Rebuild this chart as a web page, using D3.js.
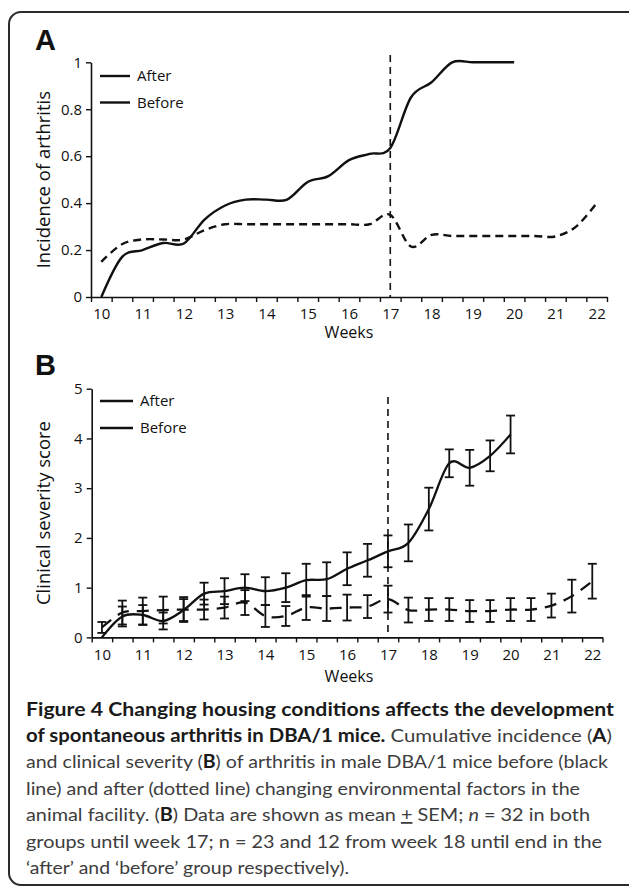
<!DOCTYPE html>
<html>
<head>
<meta charset="utf-8">
<script src="https://cdn.jsdelivr.net/npm/d3@7"></script>
<style>
  body { margin: 0; background: #fff; }
  svg { display: block; }
  text { font-family: "Open Sans", sans-serif; fill: #111; }
</style>
</head>
<body>
<div id="figure"></div>
<script>
// Wochen (Kategorien) und Achsenbeschriftungen
const weeks = [10, 10.5, 11, 11.5, 12, 12.5, 13, 13.5, 14, 14.5, 15, 15.5, 16, 16.5, 17, 17.5, 18, 18.5, 19, 19.5, 20, 20.5, 21, 21.5, 22];
const weekLabels = [10, 11, 12, 13, 14, 15, 16, 17, 18, 19, 20, 21, 22];
const incTicks = [0, 0.2, 0.4, 0.6, 0.8, 1];
const sevTicks = [0, 1, 2, 3, 4, 5];
const seriesNames = ["After", "Before"];

// A: kumulative Inzidenz
const incAfter = [0, 0.17, 0.2, 0.23, 0.228, 0.33, 0.39, 0.415, 0.415, 0.415, 0.49, 0.515, 0.583, 0.61, 0.635, 0.85, 0.915, 1, 1, 1, 1];
const incBefore = [0.15, 0.225, 0.245, 0.245, 0.245, 0.285, 0.31, 0.31, 0.31, 0.31, 0.31, 0.31, 0.31, 0.31, 0.35, 0.215, 0.265, 0.26, 0.26, 0.26, 0.26, 0.26, 0.258, 0.3, 0.4];

// B: klinischer Score, Mittelwert und SEM
const sevAfter = [0, 0.42, 0.45, 0.33, 0.55, 0.88, 0.93, 1.0, 0.93, 1.0, 1.15, 1.17, 1.38, 1.55, 1.73, 1.9, 2.58, 3.5, 3.41, 3.65, 4.08];
const sevAfterSem = [0, 0.2, 0.2, 0.17, 0.22, 0.22, 0.26, 0.27, 0.28, 0.29, 0.33, 0.34, 0.33, 0.33, 0.32, 0.37, 0.43, 0.28, 0.36, 0.31, 0.38];
const sevBefore = [0.2, 0.5, 0.53, 0.55, 0.56, 0.56, 0.6, 0.7, 0.43, 0.43, 0.6, 0.58, 0.6, 0.62, 0.77, 0.55, 0.56, 0.56, 0.53, 0.53, 0.56, 0.56, 0.64, 0.83, 1.13];
const sevBeforeSem = [0.11, 0.24, 0.27, 0.27, 0.25, 0.2, 0.22, 0.25, 0.22, 0.2, 0.25, 0.25, 0.26, 0.23, 0.27, 0.25, 0.23, 0.23, 0.22, 0.22, 0.23, 0.23, 0.24, 0.33, 0.35];

const W = 629, H = 887;

const svg = d3.select("#figure").append("svg")
  .attr("width", W)
  .attr("height", H);

// Rahmen mit runden Ecken (rechts abgeschnitten)
svg.append("rect")
  .attr("x", 9).attr("y", 12)
  .attr("width", 700).attr("height", 873)
  .attr("rx", 12)
  .attr("fill", "none")
  .attr("stroke", "#2a2a2a")
  .attr("stroke-width", 2);

function panel(opt) {
  const g = svg.append("g");
  const x = d3.scaleLinear().domain([9.75, 22.25]).range(opt.xRange);
  const y = d3.scaleLinear().domain(opt.yDomain).range(opt.yRange);

  // x-Achse: Striche an halben Wochen, Beschriftung in der Mitte
  const minor = weeks.map(w => w - 0.25).concat([22.25]);
  g.append("g")
    .attr("transform", "translate(0," + opt.yRange[0] + ")")
    .call(d3.axisBottom(x).tickValues(minor).tickFormat("").tickSize(5).tickSizeOuter(0))
    .call(a => a.select(".domain").attr("stroke", "#111").attr("stroke-width", 1.6))
    .call(a => a.selectAll(".tick line").attr("stroke", "#111").attr("stroke-width", 1.4));

  g.append("g")
    .attr("transform", "translate(0," + opt.yRange[0] + ")")
    .call(d3.axisBottom(x).tickValues(weekLabels).tickFormat(d => String(d)).tickSize(0).tickPadding(opt.xPad))
    .call(a => a.select(".domain").remove())
    .selectAll("text")
    .style("font-size", "15px")
    .style("font-family", "Open Sans")
    .attr("fill", "#111");

  // y-Achse
  g.append("g")
    .attr("transform", "translate(" + opt.xRange[0] + ",0)")
    .call(d3.axisLeft(y).tickValues(opt.yTicks).tickFormat(d => String(d)).tickSize(5).tickSizeOuter(0).tickPadding(4))
    .call(a => a.select(".domain").attr("stroke", "#111").attr("stroke-width", 1.6))
    .call(a => a.selectAll(".tick line").attr("stroke", "#111").attr("stroke-width", 1.4))
    .selectAll("text")
    .style("font-size", "15px")
    .style("font-family", "Open Sans")
    .attr("fill", "#111");

  // Achsentitel
  g.append("text")
    .attr("transform", "translate(" + opt.titleX + "," + (opt.yRange[0] + opt.yRange[1]) / 2 + ") rotate(-90)")
    .attr("text-anchor", "middle")
    .style("font-size", "18.5px")
    .text(opt.yTitle);

  g.append("text")
    .attr("x", 349).attr("y", opt.weeksY)
    .attr("text-anchor", "middle")
    .style("font-size", "16px")
    .text("Weeks");

  // Buchstabe A / B
  g.append("text")
    .attr("x", 35).attr("y", opt.letterY)
    .style("font-family", "Liberation Sans, Arial, sans-serif")
    .style("font-weight", "bold")
    .style("font-size", "29px")
    .text(opt.letter);

  // senkrechte gestrichelte Linie bei Woche 17
  g.append("line")
    .attr("x1", x(17)).attr("x2", x(17))
    .attr("y1", opt.vTop).attr("y2", opt.yRange[0])
    .attr("stroke", "#111")
    .attr("stroke-width", 1.6)
    .attr("stroke-dasharray", "7,5");

  // Legende (beide Muster durchgezogen wie im Original)
  seriesNames.forEach((name, i) => {
    const ly = opt.legY + i * opt.legStep;
    g.append("line")
      .attr("x1", opt.legX[0]).attr("x2", opt.legX[1])
      .attr("y1", ly).attr("y2", ly)
      .attr("stroke", "#111").attr("stroke-width", 2.4);
    g.append("text")
      .attr("x", opt.legX[1] + 7).attr("y", ly + 5)
      .style("font-size", "15px")
      .text(name);
  });

  return { g, x, y };
}

const curve = d3.curveCatmullRom.alpha(0);

// ---------- Panel A ----------
const A = panel({
  xRange: [91, 607], yRange: [297, 62.3], yDomain: [0, 1], yTicks: incTicks,
  yTitle: "Incidence of arthritis", titleX: 50, xPad: 11, weeksY: 338,
  letter: "A", letterY: 50, vTop: 55,
  legX: [100, 130], legY: 76, legStep: 26.5
});

const lineA = d3.line().x(d => A.x(d[0])).y(d => A.y(d[1])).curve(curve);

A.g.append("path")
  .datum(incAfter.map((v, i) => [weeks[i], v]))
  .attr("d", lineA)
  .attr("fill", "none").attr("stroke", "#111").attr("stroke-width", 2.4);

A.g.append("path")
  .datum(incBefore.map((v, i) => [weeks[i], v]))
  .attr("d", lineA)
  .attr("fill", "none").attr("stroke", "#111").attr("stroke-width", 2.4)
  .attr("stroke-dasharray", "8,5");

// ---------- Panel B ----------
const B = panel({
  xRange: [91.7, 602.5], yRange: [637.4, 388.7], yDomain: [0, 5], yTicks: sevTicks,
  yTitle: "Clinical severity score", titleX: 50, xPad: 12, weeksY: 682,
  letter: "B", letterY: 375, vTop: 397,
  legX: [100, 133], legY: 401, legStep: 27
});

const lineB = d3.line().x(d => B.x(d[0])).y(d => B.y(d[1])).curve(curve);

function errorBars(means, sems) {
  const data = means.map((m, i) => ({ w: weeks[i], lo: m - sems[i], hi: m + sems[i] }))
    .filter(d => d.hi > d.lo);
  const eb = B.g.append("g").attr("stroke", "#111").attr("stroke-width", 1.8);
  eb.selectAll(".v").data(data).enter().append("line")
    .attr("x1", d => B.x(d.w)).attr("x2", d => B.x(d.w))
    .attr("y1", d => B.y(Math.max(0, d.lo))).attr("y2", d => B.y(d.hi));
  eb.selectAll(".hi").data(data).enter().append("line")
    .attr("x1", d => B.x(d.w) - 4.5).attr("x2", d => B.x(d.w) + 4.5)
    .attr("y1", d => B.y(d.hi)).attr("y2", d => B.y(d.hi));
  eb.selectAll(".lo").data(data.filter(d => d.lo > 0)).enter().append("line")
    .attr("x1", d => B.x(d.w) - 4.5).attr("x2", d => B.x(d.w) + 4.5)
    .attr("y1", d => B.y(d.lo)).attr("y2", d => B.y(d.lo));
}

errorBars(sevBefore, sevBeforeSem);
errorBars(sevAfter, sevAfterSem);

B.g.append("path")
  .datum(sevAfter.map((v, i) => [weeks[i], v]))
  .attr("d", lineB)
  .attr("fill", "none").attr("stroke", "#111").attr("stroke-width", 2.3);

B.g.append("path")
  .datum(sevBefore.map((v, i) => [weeks[i], v]))
  .attr("d", lineB)
  .attr("fill", "none").attr("stroke", "#111").attr("stroke-width", 2.3)
  .attr("stroke-dasharray", "12,8");

// ---------- Bildunterschrift ----------
const captionLines = [
  { y: 716, len: 588, parts: [["b", "Figure 4 Changing housing conditions affects the development"]] },
  { y: 742, len: 586, parts: [["b", "of spontaneous arthritis in DBA/1 mice."], ["r", " Cumulative incidence ("], ["b", "A"], ["r", ")"]] },
  { y: 768, len: 582, parts: [["r", "and clinical severity ("], ["b", "B"], ["r", ") of arthritis in male DBA/1 mice before (black"]] },
  { y: 795, len: 554, parts: [["r", "line) and after (dotted line) changing environmental factors in the"]] },
  { y: 821, len: 564, parts: [["r", "animal facility. ("], ["b", "B"], ["r", ") Data are shown as mean "], ["u", "+"], ["r", " SEM; "], ["i", "n"], ["r", " = 32 in both"]] },
  { y: 848, len: 576, parts: [["r", "groups until week 17; n = 23 and 12 from week 18 until end in the"]] },
  { y: 874, len: 323, parts: [["r", "\u2018after\u2019 and \u2018before\u2019 group respectively)."]] }
];

const cap = svg.append("g");
captionLines.forEach(l => {
  const t = cap.append("text")
    .attr("x", 26).attr("y", l.y)
    .attr("textLength", l.len)
    .attr("lengthAdjust", "spacingAndGlyphs")
    .style("font-family", "Lato, sans-serif")
    .style("font-size", "18px");
  l.parts.forEach(p => {
    const s = t.append("tspan").text(p[1]);
    if (p[0] === "b") s.style("font-weight", "bold").attr("fill", "#1a1a1a");
    else s.attr("fill", "#3d3d3d");
    if (p[0] === "i") s.style("font-style", "italic");
    if (p[0] === "u") s.style("text-decoration", "underline");
  });
});
</script>
</body>
</html>
